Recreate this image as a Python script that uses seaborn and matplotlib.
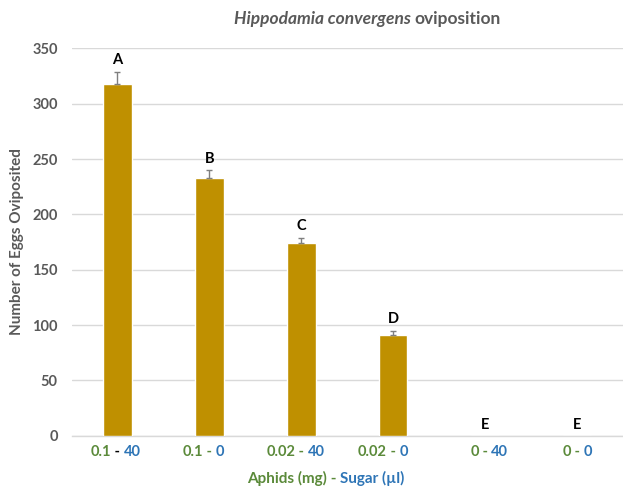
import matplotlib
matplotlib.use("Agg")
import matplotlib.pyplot as plt
import seaborn as sns
import pandas as pd

aphids = ["0.1", "0.1", "0.02", "0.02", "0", "0"]
sugar = ["40", "0", "40", "0", "40", "0"]
eggs = [318, 233, 174, 91, 0, 0]
sem = [11, 7, 5, 4, 0, 0]
letters = ["A", "B", "C", "D", "E", "E"]
categories = [f"{a} - {s}" for a, s in zip(aphids, sugar)]

sns.set_theme(style="white")
plt.rcParams['font.family'] = ['Lato', 'DejaVu Sans']

GREEN = "#5b8a3a"
BLUE = "#2e75b6"
GRAY = "#595959"
BAR = "#bf9000"

df = pd.DataFrame({"cat": categories, "eggs": eggs})

fig = plt.figure(figsize=(6.23, 4.92), dpi=100)
ax = fig.add_axes([0.1148, 0.1144, 0.8852, 0.7874])

sns.barplot(data=df, x="cat", y="eggs", color=BAR, width=0.31, ax=ax,
            saturation=1, zorder=3)
idx = [i for i, e in enumerate(sem) if e > 0]
ax.errorbar(idx, [eggs[i] for i in idx],
            yerr=[[0] * len(idx), [sem[i] for i in idx]],
            fmt="none", ecolor="#7f7f7f", elinewidth=1, capsize=2.5,
            capthick=1, zorder=4)

for i, (v, e, l) in enumerate(zip(eggs, sem, letters)):
    ax.annotate(l, (i, v + e), xytext=(0, 3), textcoords="offset points",
                ha="center", va="bottom", fontsize=10.5, fontweight="bold",
                color="black", zorder=5)

ax.set_ylim(0, 350)
ax.set_xlim(-0.5, len(eggs) - 0.5)
ax.set_yticks(range(0, 351, 50))
ax.yaxis.grid(True, color="#d9d9d9", linewidth=1, zorder=0)
ax.set_axisbelow(True)
for s in ["top", "right", "left"]:
    ax.spines[s].set_visible(False)
ax.spines["bottom"].set_color("#d9d9d9")
ax.spines["bottom"].set_linewidth(1)
ax.tick_params(axis="y", length=0, pad=10, labelsize=10.5, labelcolor=GRAY)
for t in ax.get_yticklabels():
    t.set_fontweight("bold")
ax.tick_params(axis="x", length=0)
ax.set_xticklabels([])
ax.set_xlabel("")
ax.set_ylabel("Number of Eggs Oviposited", fontsize=11, fontweight="bold",
              color=GRAY, labelpad=6)

# multicolored x tick labels
trans = ax.get_xaxis_transform()
for i, (a, s) in enumerate(zip(aphids, sugar)):
    dash_color = "black" if i == 0 else GREEN
    mid = ax.text(i, -0.042, " - ", transform=trans, ha="center", va="center",
                  fontsize=10.5, fontweight="bold", color=dash_color)
    ax.annotate(a, xy=(0, 0.5), xycoords=mid, ha="right", va="center",
                fontsize=10.5, fontweight="bold", color=GREEN)
    ax.annotate(s, xy=(1, 0.5), xycoords=mid, ha="left", va="center",
                fontsize=10.5, fontweight="bold", color=BLUE)

# multicolored x axis title
mid = fig.text(0.535, 0.027, " - ", ha="center", va="center",
               fontsize=11, fontweight="bold", color=GREEN)
ax.annotate("Aphids (mg)", xy=(0, 0.5), xycoords=mid, ha="right", va="center",
            fontsize=11, fontweight="bold", color=GREEN, annotation_clip=False)
ax.annotate("Sugar (µl)", xy=(1, 0.5), xycoords=mid, ha="left", va="center",
            fontsize=11, fontweight="bold", color=BLUE, annotation_clip=False)

# title with italic species name
t1 = fig.text(0.665, 0.962, "Hippodamia convergens ", ha="right", va="center",
              fontsize=12.5, fontweight="bold", fontstyle="italic", color=GRAY)
ax.annotate("oviposition", xy=(1, 0.5), xycoords=t1, ha="left", va="center",
            fontsize=12.5, fontweight="bold", color=GRAY, annotation_clip=False)

fig.savefig("out.png", dpi=100)
